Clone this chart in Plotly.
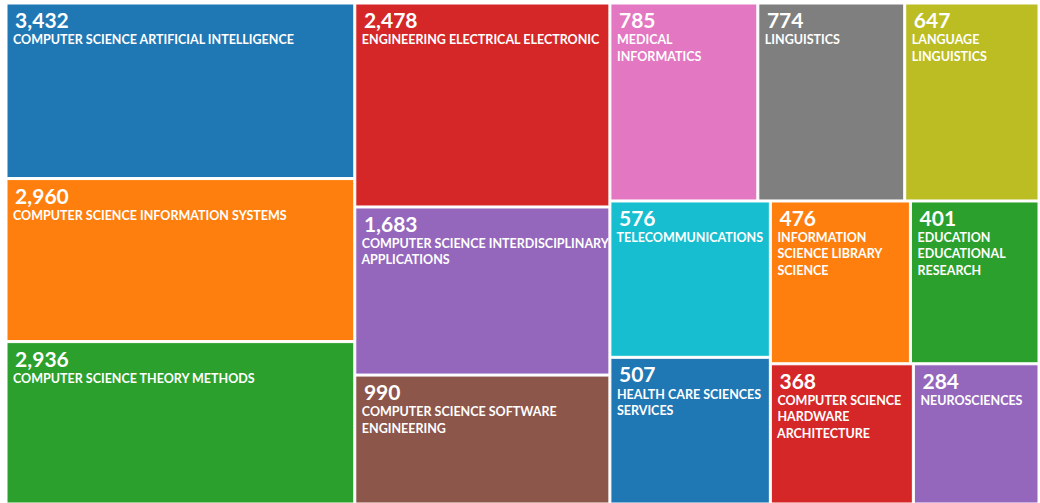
import math
import plotly.graph_objects as go

categories = [
    "COMPUTER SCIENCE ARTIFICIAL INTELLIGENCE",
    "COMPUTER SCIENCE INFORMATION SYSTEMS",
    "COMPUTER SCIENCE THEORY METHODS",
    "ENGINEERING ELECTRICAL ELECTRONIC",
    "COMPUTER SCIENCE INTERDISCIPLINARY APPLICATIONS",
    "COMPUTER SCIENCE SOFTWARE ENGINEERING",
    "MEDICAL INFORMATICS",
    "LINGUISTICS",
    "LANGUAGE LINGUISTICS",
    "TELECOMMUNICATIONS",
    "HEALTH CARE SCIENCES SERVICES",
    "INFORMATION SCIENCE LIBRARY SCIENCE",
    "EDUCATION EDUCATIONAL RESEARCH",
    "COMPUTER SCIENCE HARDWARE ARCHITECTURE",
    "NEUROSCIENCES",
]
# label lines as they wrap in the tiles
label_lines = [
    ["COMPUTER SCIENCE ARTIFICIAL INTELLIGENCE"],
    ["COMPUTER SCIENCE INFORMATION SYSTEMS"],
    ["COMPUTER SCIENCE THEORY METHODS"],
    ["ENGINEERING ELECTRICAL ELECTRONIC"],
    ["COMPUTER SCIENCE INTERDISCIPLINARY", "APPLICATIONS"],
    ["COMPUTER SCIENCE SOFTWARE", "ENGINEERING"],
    ["MEDICAL", "INFORMATICS"],
    ["LINGUISTICS"],
    ["LANGUAGE", "LINGUISTICS"],
    ["TELECOMMUNICATIONS"],
    ["HEALTH CARE SCIENCES", "SERVICES"],
    ["INFORMATION", "SCIENCE LIBRARY", "SCIENCE"],
    ["EDUCATION", "EDUCATIONAL", "RESEARCH"],
    ["COMPUTER SCIENCE", "HARDWARE", "ARCHITECTURE"],
    ["NEUROSCIENCES"],
]
counts = [3432, 2960, 2936, 2478, 1683, 990, 785, 774, 647, 576, 507, 476, 401, 368, 284]
colors = [
    "#1f77b4", "#ff7f0e", "#2ca02c", "#d62728", "#9467bd", "#8c564b",
    "#e377c2", "#7f7f7f", "#bcbd22", "#17becf", "#1f77b4", "#ff7f0e",
    "#2ca02c", "#d62728", "#9467bd",
]

# tile area in the reference scales with the square root of the count
sizes = [math.sqrt(c) for c in counts]
display_labels = ["<br>".join("&nbsp;" + ln for ln in lines) for lines in label_lines]

fig = go.Figure(
    go.Treemap(
        labels=categories,
        parents=[""] * len(categories),
        values=sizes,
        customdata=counts,
        text=display_labels,
        texttemplate="<span style='font-size:21px'>&nbsp;%{customdata:,}</span><br>%{text}",
        textposition="top left",
        textfont=dict(family="Lato, Roboto, sans-serif", size=12.5, color="white", weight="bold"),
        marker=dict(colors=colors, line=dict(color="white", width=1),
                    pad=dict(t=0, l=0, r=0, b=0)),
        tiling=dict(packing="squarify", squarifyratio=1.45, pad=2),
        pathbar=dict(visible=False),
        sort=True,
        hovertemplate="%{label}<br>%{customdata:,}<extra></extra>",
    )
)
fig.update_layout(
    width=1040,
    height=503,
    margin=dict(l=7, r=2, t=4, b=0),
    paper_bgcolor="white",
    uniformtext=dict(minsize=12.5, mode="show"),
)
fig.write_html(
    "out.html",
    config={"displayModeBar": False},
    post_script="document.body.style.margin='0';document.body.style.overflow='hidden';",
)
